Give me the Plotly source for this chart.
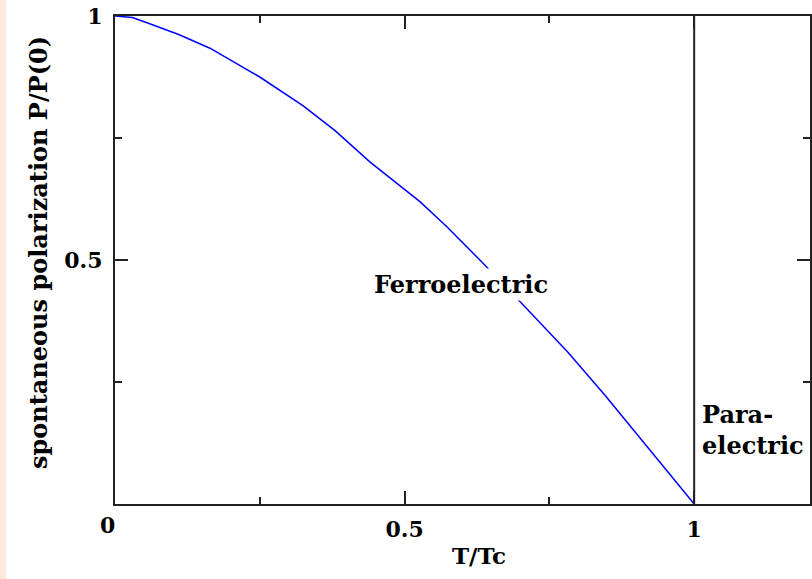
import plotly.graph_objects as go

# Data
t_over_tc = [0.0, 0.03, 0.06, 0.11, 0.164, 0.25, 0.325, 0.38, 0.44, 0.527, 0.573, 0.63, 0.70, 0.782, 0.846, 0.919, 1.0]
p_over_p0 = [1.0, 0.997, 0.984, 0.962, 0.934, 0.875, 0.816, 0.765, 0.701, 0.619, 0.568, 0.50, 0.414, 0.311, 0.223, 0.117, 0.0]
boundary_x = [1.0, 1.0]
boundary_y = [0.0, 1.0]
x_tickvals = [0, 0.5, 1]
x_ticktext = ["", "0.5", "1"]
y_tickvals = [0, 0.5, 1]
y_ticktext = ["", "0.5", "1"]

FONT = "DejaVu Serif"
W, H = 812, 579
ML, MR, MT, MB = 115, 2, 16, 75
PW, PH = W - ML - MR, H - MT - MB

def px_x(px):
    return (px - ML) / PW

def px_y(py):
    return 1 - (py - MT) / PH

fig = go.Figure()
fig.add_trace(go.Scatter(x=t_over_tc, y=p_over_p0, mode="lines", line=dict(color="#0000FF", width=1.5),
                         hoverinfo="skip", showlegend=False))
fig.add_trace(go.Scatter(x=boundary_x, y=boundary_y, mode="lines", line=dict(color="#222222", width=2),
                         hoverinfo="skip", showlegend=False))

axis_common = dict(
    showgrid=False, zeroline=False, showline=True, linecolor="#222222", linewidth=2,
    mirror="ticks", ticks="inside", ticklen=13, tickwidth=2, tickcolor="#222222",
    tickfont=dict(family=FONT, size=22, color="black", weight="bold"),
    minor=dict(ticks="inside", ticklen=7, tickwidth=1.5, tickcolor="#222222", dtick=0.25, tick0=0),
    automargin=False,
)

bold = lambda s: dict(family=FONT, size=s, color="black", weight="bold")

fig.update_layout(
    width=W, height=H,
    margin=dict(l=ML, r=MR, t=MT, b=MB, autoexpand=False),
    paper_bgcolor="white", plot_bgcolor="white",
    xaxis=dict(range=[0, 1.2], tickmode="array", tickvals=x_tickvals, ticktext=x_ticktext,
               ticklabelstandoff=5, **axis_common),
    yaxis=dict(range=[0, 1], tickmode="array", tickvals=y_tickvals, ticktext=y_ticktext,
               ticklabelstandoff=6, **axis_common),
    shapes=[dict(type="rect", xref="paper", yref="paper",
                 x0=-ML / PW, x1=(6 - ML) / PW, y0=-MB / PH, y1=1 + MT / PH,
                 fillcolor="#FDEADC", line=dict(width=0), layer="below")],
    annotations=[
        dict(text="0", xref="paper", yref="paper", x=px_x(107), y=px_y(525),
             xanchor="center", yanchor="middle", showarrow=False, font=bold(22)),
        dict(text="T/Tc", xref="paper", yref="paper", x=px_x(479), y=px_y(555),
             xanchor="center", yanchor="middle", showarrow=False, font=bold(23)),
        dict(text="spontaneous polarization P/P(0)", xref="paper", yref="paper",
             x=px_x(39), y=px_y(253), textangle=-90, xanchor="center", yanchor="middle",
             showarrow=False, font=bold(24)),
        dict(text="Ferroelectric", xref="paper", yref="paper",
             x=px_x(461), y=px_y(284), bgcolor="white", borderpad=1,
             xanchor="center", yanchor="middle", showarrow=False, font=bold(24)),
        dict(text="Para-<br>electric", xref="paper", yref="paper", align="left", xanchor="left",
             yanchor="middle", x=px_x(700), y=px_y(430), showarrow=False, font=bold(24)),
    ],
)

fig.write_html("out.html", config={"displayModeBar": False},
               post_script="document.body.style.margin='0';document.body.style.overflow='hidden';")
